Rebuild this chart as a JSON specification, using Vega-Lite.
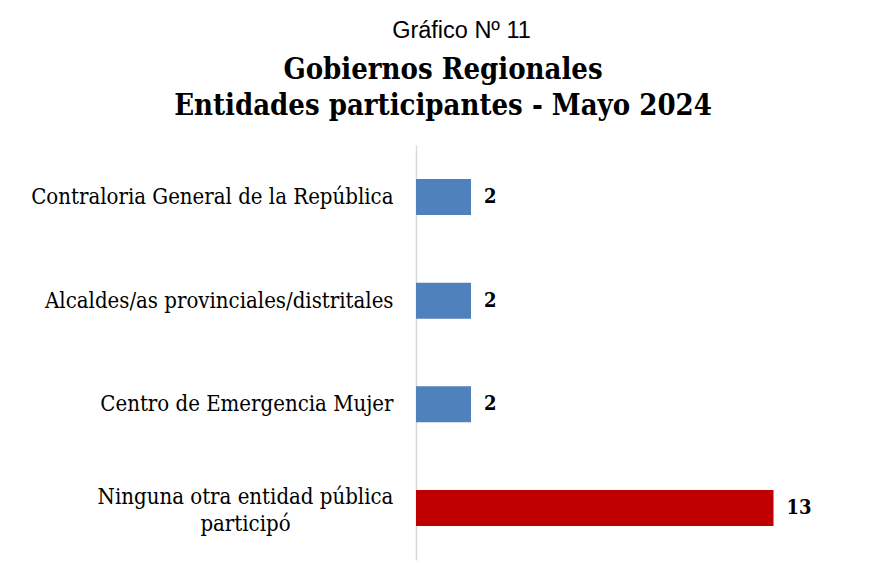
{
  "$schema": "https://vega.github.io/schema/vega-lite/v6.json",
  "width": 440,
  "height": 415,
  "autosize": {"type": "none"},
  "padding": {"left": 416, "top": 145, "right": 13, "bottom": 3},
  "background": "white",
  "config": {"view": {"stroke": null}},
  "title": {
    "text": ["Gobiernos Regionales", "Entidades participantes - Mayo 2024"],
    "font": "DejaVu Serif Condensed",
    "fontWeight": "bold",
    "fontSize": 29,
    "lineHeight": 36,
    "color": "black",
    "anchor": "start",
    "frame": "group",
    "dx": 27,
    "dy": 123,
    "align": "center",
    "offset": 20
  },
  "data": {
    "values": [
      {"entidad": "Contraloria General de la República", "n": 2},
      {"entidad": "Alcaldes/as provinciales/distritales", "n": 2},
      {"entidad": "Centro de Emergencia Mujer", "n": 2},
      {"entidad": "Ninguna otra entidad pública participó", "n": 13}
    ]
  },
  "encoding": {
    "y": {
      "field": "entidad",
      "type": "nominal",
      "sort": null,
      "scale": {"paddingInner": 0.653, "paddingOuter": 0.327},
      "axis": {
        "title": null,
        "domainColor": "#d9d9d9",
        "domainWidth": 1.5,
        "ticks": false,
        "labelFont": "DejaVu Serif Condensed",
        "labelFontSize": 22,
        "labelColor": "black",
        "labelLimit": 600,
        "labelLineHeight": 27,
        "labelBaseline": "middle",
        "labelExpr": "datum.value == 'Ninguna otra entidad pública participó' ? ['Ninguna otra entidad pública', 'participó'] : datum.value",
        "labelAlign": {"condition": {"test": "datum.value == 'Ninguna otra entidad pública participó'", "value": "center"}, "value": "right"},
        "labelPadding": {"condition": {"test": "datum.value == 'Ninguna otra entidad pública participó'", "value": 171}, "value": 23},
        "labelOffset": {"condition": {"test": "datum.value == 'Ninguna otra entidad pública participó'", "value": -11}, "value": 0}
      }
    },
    "x": {
      "field": "n",
      "type": "quantitative",
      "scale": {"domain": [0, 16]},
      "axis": {
        "orient": "top",
        "domain": false,
        "ticks": false,
        "labels": false,
        "grid": false,
        "title": "Gráfico Nº 11",
        "titleFont": "Liberation Sans",
        "titleFontSize": 23.5,
        "titleFontWeight": "normal",
        "titleColor": "black",
        "titleAnchor": "start",
        "titleAlign": "center",
        "titleBaseline": "alphabetic",
        "titleX": 45,
        "titleY": -108
      }
    }
  },
  "layer": [
    {
      "mark": {"type": "bar"},
      "encoding": {
        "color": {
          "field": "entidad",
          "type": "nominal",
          "scale": {
            "domain": ["Contraloria General de la República", "Alcaldes/as provinciales/distritales", "Centro de Emergencia Mujer", "Ninguna otra entidad pública participó"],
            "range": ["#4F81BD", "#4F81BD", "#4F81BD", "#C00000"]
          },
          "legend": null
        }
      }
    },
    {
      "mark": {"type": "text", "align": "left", "baseline": "middle", "dx": 13, "font": "DejaVu Serif Condensed", "fontWeight": "bold", "fontSize": 20, "color": "black"},
      "encoding": {"text": {"field": "n", "type": "quantitative"}}
    }
  ]
}
